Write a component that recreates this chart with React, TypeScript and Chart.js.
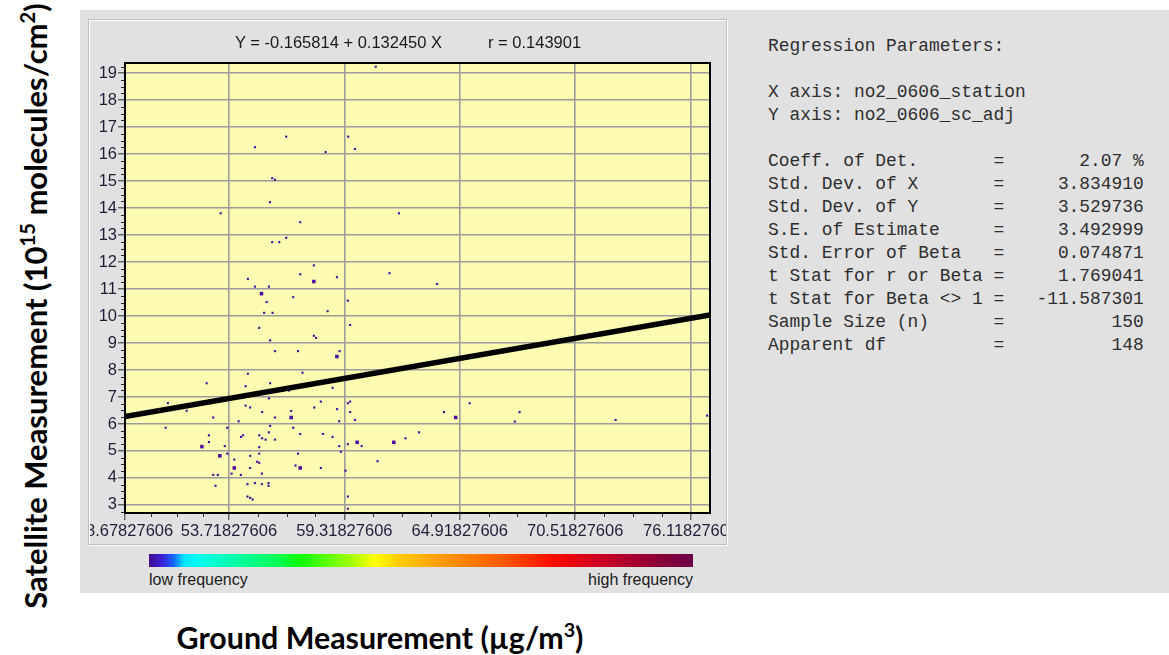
import React, { useEffect, useRef } from "react";
import { Chart, registerables } from "chart.js";

Chart.register(...registerables);

// ---- data: single-frequency points (ground x, satellite y)
const singleX = [
  53.32, 54.98, 56.5, 58.41, 59.51, 59.83, 60.84, 55.82, 55.95, 55.71,
  57.18, 55.82, 56.16, 56.5, 57.84, 61.97, 54.64, 57.18, 58.96, 54.98,
  55.66, 56.84, 55.55, 59.49, 55.43, 55.84, 58.51, 55.19, 59.6, 55.72,
  57.84, 57.95, 55.95, 57.07, 59.09, 54.64, 57.29, 52.64, 54.53, 55.72,
  58.75, 56.63, 50.76, 51.67, 54.53, 54.75, 55.66, 58.18, 57.86, 58.97,
  59.49, 59.6, 52.96, 54.19, 55.33, 55.95, 56.74, 59.6, 59.07, 59.83,
  50.65, 53.64, 55.72, 56.84, 52.75, 52.75, 54.41, 54.31, 55.19, 55.66,
  55.33, 55.5, 55.95, 57.18, 58.28, 58.75, 53.52, 55.19, 59.07, 59.49,
  60.16, 53.64, 54.75, 55.19, 57.07, 59.15, 53.98, 55.09, 55.19, 60.93,
  54.75, 56.95, 58.18, 59.38, 52.96, 53.18, 53.85, 54.3, 55.32, 53.07,
  54.62, 54.98, 55.32, 55.64, 55.64, 54.62, 54.75, 54.87, 59.49, 59.49,
  61.51, 63.82, 65.4, 64.15, 67.82, 67.59, 72.48, 76.92, 62.94, 62.29,
];
const singleY = [
  13.81, 16.26, 16.65, 16.08, 16.65, 16.19, 19.24, 15.11, 15.05, 14.22,
  13.48, 12.74, 12.74, 12.9, 11.88, 13.81, 11.38, 11.55, 11.44, 11.09,
  11.09, 10.7, 10.52, 10.57, 10.12, 10.12, 10.18, 9.56, 9.67, 9.1,
  9.27, 9.19, 8.7, 8.7, 8.7, 7.86, 7.9, 7.51, 7.4, 7.51,
  7.34, 7.24, 6.77, 6.49, 6.68, 6.61, 6.95, 6.83, 6.61, 6.55,
  6.77, 6.83, 6.24, 6.1, 6.44, 6.24, 6.48, 6.44, 6.1, 6.15,
  5.86, 5.86, 5.93, 5.86, 5.58, 5.33, 5.58, 5.52, 5.58, 5.69,
  5.47, 5.42, 5.42, 5.63, 5.63, 5.52, 5.18, 5.14, 5.18, 5.25,
  5.18, 4.9, 4.82, 4.9, 4.9, 4.97, 4.68, 4.6, 4.56, 4.62,
  4.37, 4.46, 4.37, 4.27, 4.11, 4.11, 4.16, 4.11, 4.16, 3.71,
  3.77, 3.81, 3.77, 3.81, 3.71, 3.31, 3.26, 3.2, 3.31, 2.86,
  11.59, 11.19, 6.77, 6.44, 6.44, 6.09, 6.15, 6.31, 5.69, 5.47,
];
// ---- data: higher-frequency (overlapping) points
const doubleX = [57.84, 55.3, 58.96, 56.74, 52.41, 59.94, 53.28, 53.98, 57.18, 64.72, 61.72];
const doubleY = [11.28, 10.83, 8.5, 6.24, 5.16, 5.32, 4.82, 4.37, 4.37, 6.24, 5.32];

// ---- regression line end points (Y = -0.165814 + 0.132450 X)
const fitX = [48.67827606, 77.06];
const fitY = [6.28, 10.04];

// ---- axes
const xMajorTicks = [48.67827606, 53.71827606, 59.31827606, 64.91827606, 70.51827606, 76.11827606];
const yMajorTicks = [3, 4, 5, 6, 7, 8, 9, 10, 11, 12, 13, 14, 15, 16, 17, 18, 19];
const X_MIN = 48.67827606;
const X_MAX = 77.06;
const Y_MIN = 2.7;
const Y_MAX = 19.38;

// ---- texts
const equationText = "Y = -0.165814 + 0.132450 X";
const rText = "r = 0.143901";
const statTitle = "Regression Parameters:";
const xAxisVar = "X axis: no2_0606_station";
const yAxisVar = "Y axis: no2_0606_sc_adj";
const statLabels = [
  "Coeff. of Det.",
  "Std. Dev. of X",
  "Std. Dev. of Y",
  "S.E. of Estimate",
  "Std. Error of Beta",
  "t Stat for r or Beta",
  "t Stat for Beta <> 1",
  "Sample Size (n)",
  "Apparent df",
];
const statValues = ["2.07 %", "3.834910", "3.529736", "3.492999", "0.074871", "1.769041", "-11.587301", "150", "148"];

type T = { value: number; mj: boolean };

function buildXTicks(): T[] {
  const out: T[] = [];
  for (let i = 0; i < xMajorTicks.length; i++) {
    const a = xMajorTicks[i];
    out.push({ value: a, mj: true });
    const b = i + 1 < xMajorTicks.length ? xMajorTicks[i + 1] : null;
    if (b !== null) {
      const st = (b - a) / 4;
      for (let k = 1; k < 4; k++) out.push({ value: a + st * k, mj: false });
    } else {
      let v = a + 1.4;
      while (v < X_MAX) {
        out.push({ value: v, mj: false });
        v += 1.4;
      }
    }
  }
  return out;
}

function buildYTicks(): T[] {
  const out: T[] = [];
  const start = Math.ceil(Y_MIN * 4) / 4;
  for (let v = start; v <= Y_MAX + 1e-9; v += 0.25) {
    const r = Math.round(v * 4) / 4;
    out.push({ value: r, mj: yMajorTicks.includes(r) });
  }
  return out;
}

const framePlugin = {
  id: "framePlugin",
  beforeDraw(chart: any) {
    const { ctx, chartArea: a } = chart;
    ctx.save();
    ctx.fillStyle = "#fbfbb2";
    ctx.fillRect(a.left, a.top, a.right - a.left, a.bottom - a.top);
    ctx.restore();
  },
  afterDatasetsDraw(chart: any) {
    const { ctx, chartArea: a } = chart;
    const xs = chart.scales.x;
    const ys = chart.scales.y;
    ctx.save();
    ctx.strokeStyle = "#2a2a2a";
    ctx.lineWidth = 1;
    ctx.beginPath();
    xs.ticks.forEach((t: any) => {
      if (!t.mj) {
        const px = Math.round(xs.getPixelForValue(t.value)) + 0.5;
        ctx.moveTo(px, a.bottom);
        ctx.lineTo(px, a.bottom + 4);
      }
    });
    ys.ticks.forEach((t: any) => {
      if (!t.mj) {
        const py = Math.round(ys.getPixelForValue(t.value)) + 0.5;
        ctx.moveTo(a.left, py);
        ctx.lineTo(a.left - 4, py);
      }
    });
    ctx.stroke();
    ctx.strokeStyle = "#000";
    ctx.lineWidth = 2;
    ctx.strokeRect(a.left, a.top, a.right - a.left, a.bottom - a.top);
    ctx.restore();
  },
};

function ScatterChart() {
  const ref = useRef<HTMLCanvasElement | null>(null);
  useEffect(() => {
    if (!ref.current) return;
    const tickFont = { family: "'Liberation Sans', Arial, sans-serif", size: 16.5 };
    const chart = new Chart(ref.current, {
      type: "scatter",
      data: {
        datasets: [
          {
            label: "fit",
            data: fitX.map((x, i) => ({ x, y: fitY[i] })),
            showLine: true,
            borderColor: "#000",
            borderWidth: 5.5,
            pointRadius: 0,
            clip: 0,
          } as any,
          {
            label: "double",
            data: doubleX.map((x, i) => ({ x, y: doubleY[i] })),
            pointStyle: "rect",
            pointRadius: 2.5,
            backgroundColor: "#4a0c9c",
            borderWidth: 0,
          },
          {
            label: "single",
            data: singleX.map((x, i) => ({ x, y: singleY[i] })),
            pointStyle: "rect",
            pointRadius: 1.5,
            backgroundColor: "#4a0c9c",
            borderWidth: 0,
          },
        ],
      },
      options: {
        animation: false,
        responsive: false,
        devicePixelRatio: 1,
        layout: { padding: { left: 0, top: 44, right: 17, bottom: 0 } },
        plugins: { legend: { display: false }, tooltip: { enabled: false }, title: { display: false } },
        scales: {
          x: {
            type: "linear",
            min: X_MIN,
            max: X_MAX,
            border: { display: false },
            afterBuildTicks: (s: any) => {
              s.ticks = buildXTicks();
            },
            afterFit: (s: any) => {
              s.height = 32;
              s.paddingLeft = 0;
              s.paddingRight = 0;
            },
            grid: {
              color: (c: any) => (c.tick && c.tick.mj && c.index !== 0 ? "#9c9c9c" : "rgba(0,0,0,0)"),
              tickColor: (c: any) => (c.tick && c.tick.mj ? "#2a2a2a" : "rgba(0,0,0,0)"),
              lineWidth: 1.6,
              tickWidth: 1,
              tickLength: 7,
              drawTicks: true,
            },
            ticks: {
              autoSkip: false,
              maxRotation: 0,
              minRotation: 0,
              padding: 2,
              color: "#1e1e3a",
              font: tickFont,
              callback: (v: any, i: number, ticks: any[]) => (ticks[i] && ticks[i].mj ? Number(v).toFixed(8) : ""),
            },
          },
          y: {
            type: "linear",
            min: Y_MIN,
            max: Y_MAX,
            border: { display: false },
            afterBuildTicks: (s: any) => {
              s.ticks = buildYTicks();
            },
            afterFit: (s: any) => {
              s.width = 37;
              s.paddingTop = 0;
              s.paddingBottom = 0;
            },
            grid: {
              color: (c: any) => (c.tick && c.tick.mj ? "#9c9c9c" : "rgba(0,0,0,0)"),
              tickColor: (c: any) => (c.tick && c.tick.mj ? "#2a2a2a" : "rgba(0,0,0,0)"),
              lineWidth: 1.6,
              tickWidth: 1,
              tickLength: 7,
            },
            ticks: {
              autoSkip: false,
              padding: 1,
              color: "#1e1e3a",
              font: tickFont,
              callback: (v: any, i: number, ticks: any[]) => (ticks[i] && ticks[i].mj ? String(v) : ""),
            },
          },
        },
      },
      plugins: [framePlugin],
    });
    return () => chart.destroy();
  }, []);
  return (
    <canvas
      ref={ref}
      width={639}
      height={526}
      style={{ position: "absolute", left: 88, top: 19, width: 639, height: 526 }}
    />
  );
}

const abs = (s: React.CSSProperties): React.CSSProperties => ({ position: "absolute", whiteSpace: "nowrap", ...s });

export default function App() {
  const statLines = [
    statTitle,
    "",
    xAxisVar,
    yAxisVar,
    "",
    ...statLabels.map((l, i) => l.padEnd(21, " ") + "=" + statValues[i].padStart(13, " ")),
  ];
  const bold = "'Lato', 'Open Sans', sans-serif";
  const supStyle: React.CSSProperties = { fontSize: "0.65em", verticalAlign: "0.6em", lineHeight: 0 };
  return (
    <div style={{ position: "absolute", left: 0, top: 0, width: 1169, height: 655, background: "#fff", overflow: "hidden" }}>
      <div style={abs({ left: 80, top: 10, width: 1089, height: 583, background: "#e1e1e1" })} />
      <ScatterChart />
      <div
        style={abs({
          left: 88,
          top: 19,
          width: 639,
          height: 526,
          boxSizing: "border-box",
          border: "1px solid #bdbdbd",
          boxShadow: "inset 1px 1px 0 #ffffff, 1px 1px 0 #ffffff",
          pointerEvents: "none",
        })}
      />
      <div style={abs({ left: 235, top: 32, lineHeight: "20px", fontSize: 16.5, fontFamily: "'Liberation Sans', Arial", color: "#1a1a1a" })}>
        {equationText}
      </div>
      <div style={abs({ left: 488, top: 32, lineHeight: "20px", fontSize: 16.5, fontFamily: "'Liberation Sans', Arial", color: "#1a1a1a" })}>
        {rText}
      </div>
      <pre
        style={{
          position: "absolute",
          whiteSpace: "pre",
          left: 768,
          top: 34.5,
          margin: 0,
          fontFamily: "'Liberation Mono', 'Courier New', monospace",
          fontSize: 17.9,
          lineHeight: "23px",
          color: "#2e2e2e",
        }}
      >
        {statLines.join("\n")}
      </pre>
      <div
        style={abs({
          left: 149,
          top: 554,
          width: 544,
          height: 13,
          background:
            "linear-gradient(to right, #420c92 0%, #3a22d8 2.5%, #1466ff 4.5%, #00e6ff 6.5%, #00fff0 9%, #00ffb0 15%, #00ff50 24%, #10ff00 28%, #a0ff00 37%, #ffff00 41.5%, #ffcc00 46%, #ff9400 55%, #ff5a00 65%, #ff0c00 74%, #cc0024 83%, #940034 92%, #6a0048 100%)",
        })}
      />
      <div style={abs({ left: 149, top: 570, lineHeight: "20px", fontSize: 16, fontFamily: "'Liberation Sans', Arial", color: "#1a1a1a" })}>
        low frequency
      </div>
      <div
        style={abs({ left: 493, width: 200, textAlign: "right", top: 570, lineHeight: "20px", fontSize: 16, fontFamily: "'Liberation Sans', Arial", color: "#1a1a1a" })}
      >
        high frequency
      </div>
      <div
        style={abs({
          left: 380,
          top: 637,
          transform: "translate(-50%, -50%)",
          fontFamily: bold,
          fontWeight: 700,
          fontSize: 30.4,
          lineHeight: "36px",
          color: "#000",
        })}
      >
        Ground Measurement (µg/m<sup style={supStyle}>3</sup>)
      </div>
      <div
        style={abs({
          left: 35,
          top: 306,
          transform: "translate(-50%, -50%) rotate(-90deg)",
          fontFamily: bold,
          fontWeight: 700,
          fontSize: 31,
          lineHeight: "36px",
          color: "#000",
        })}
      >
        Satellite Measurement (10<sup style={supStyle}>15</sup> molecules/cm<sup style={supStyle}>2</sup>)
      </div>
    </div>
  );
}
